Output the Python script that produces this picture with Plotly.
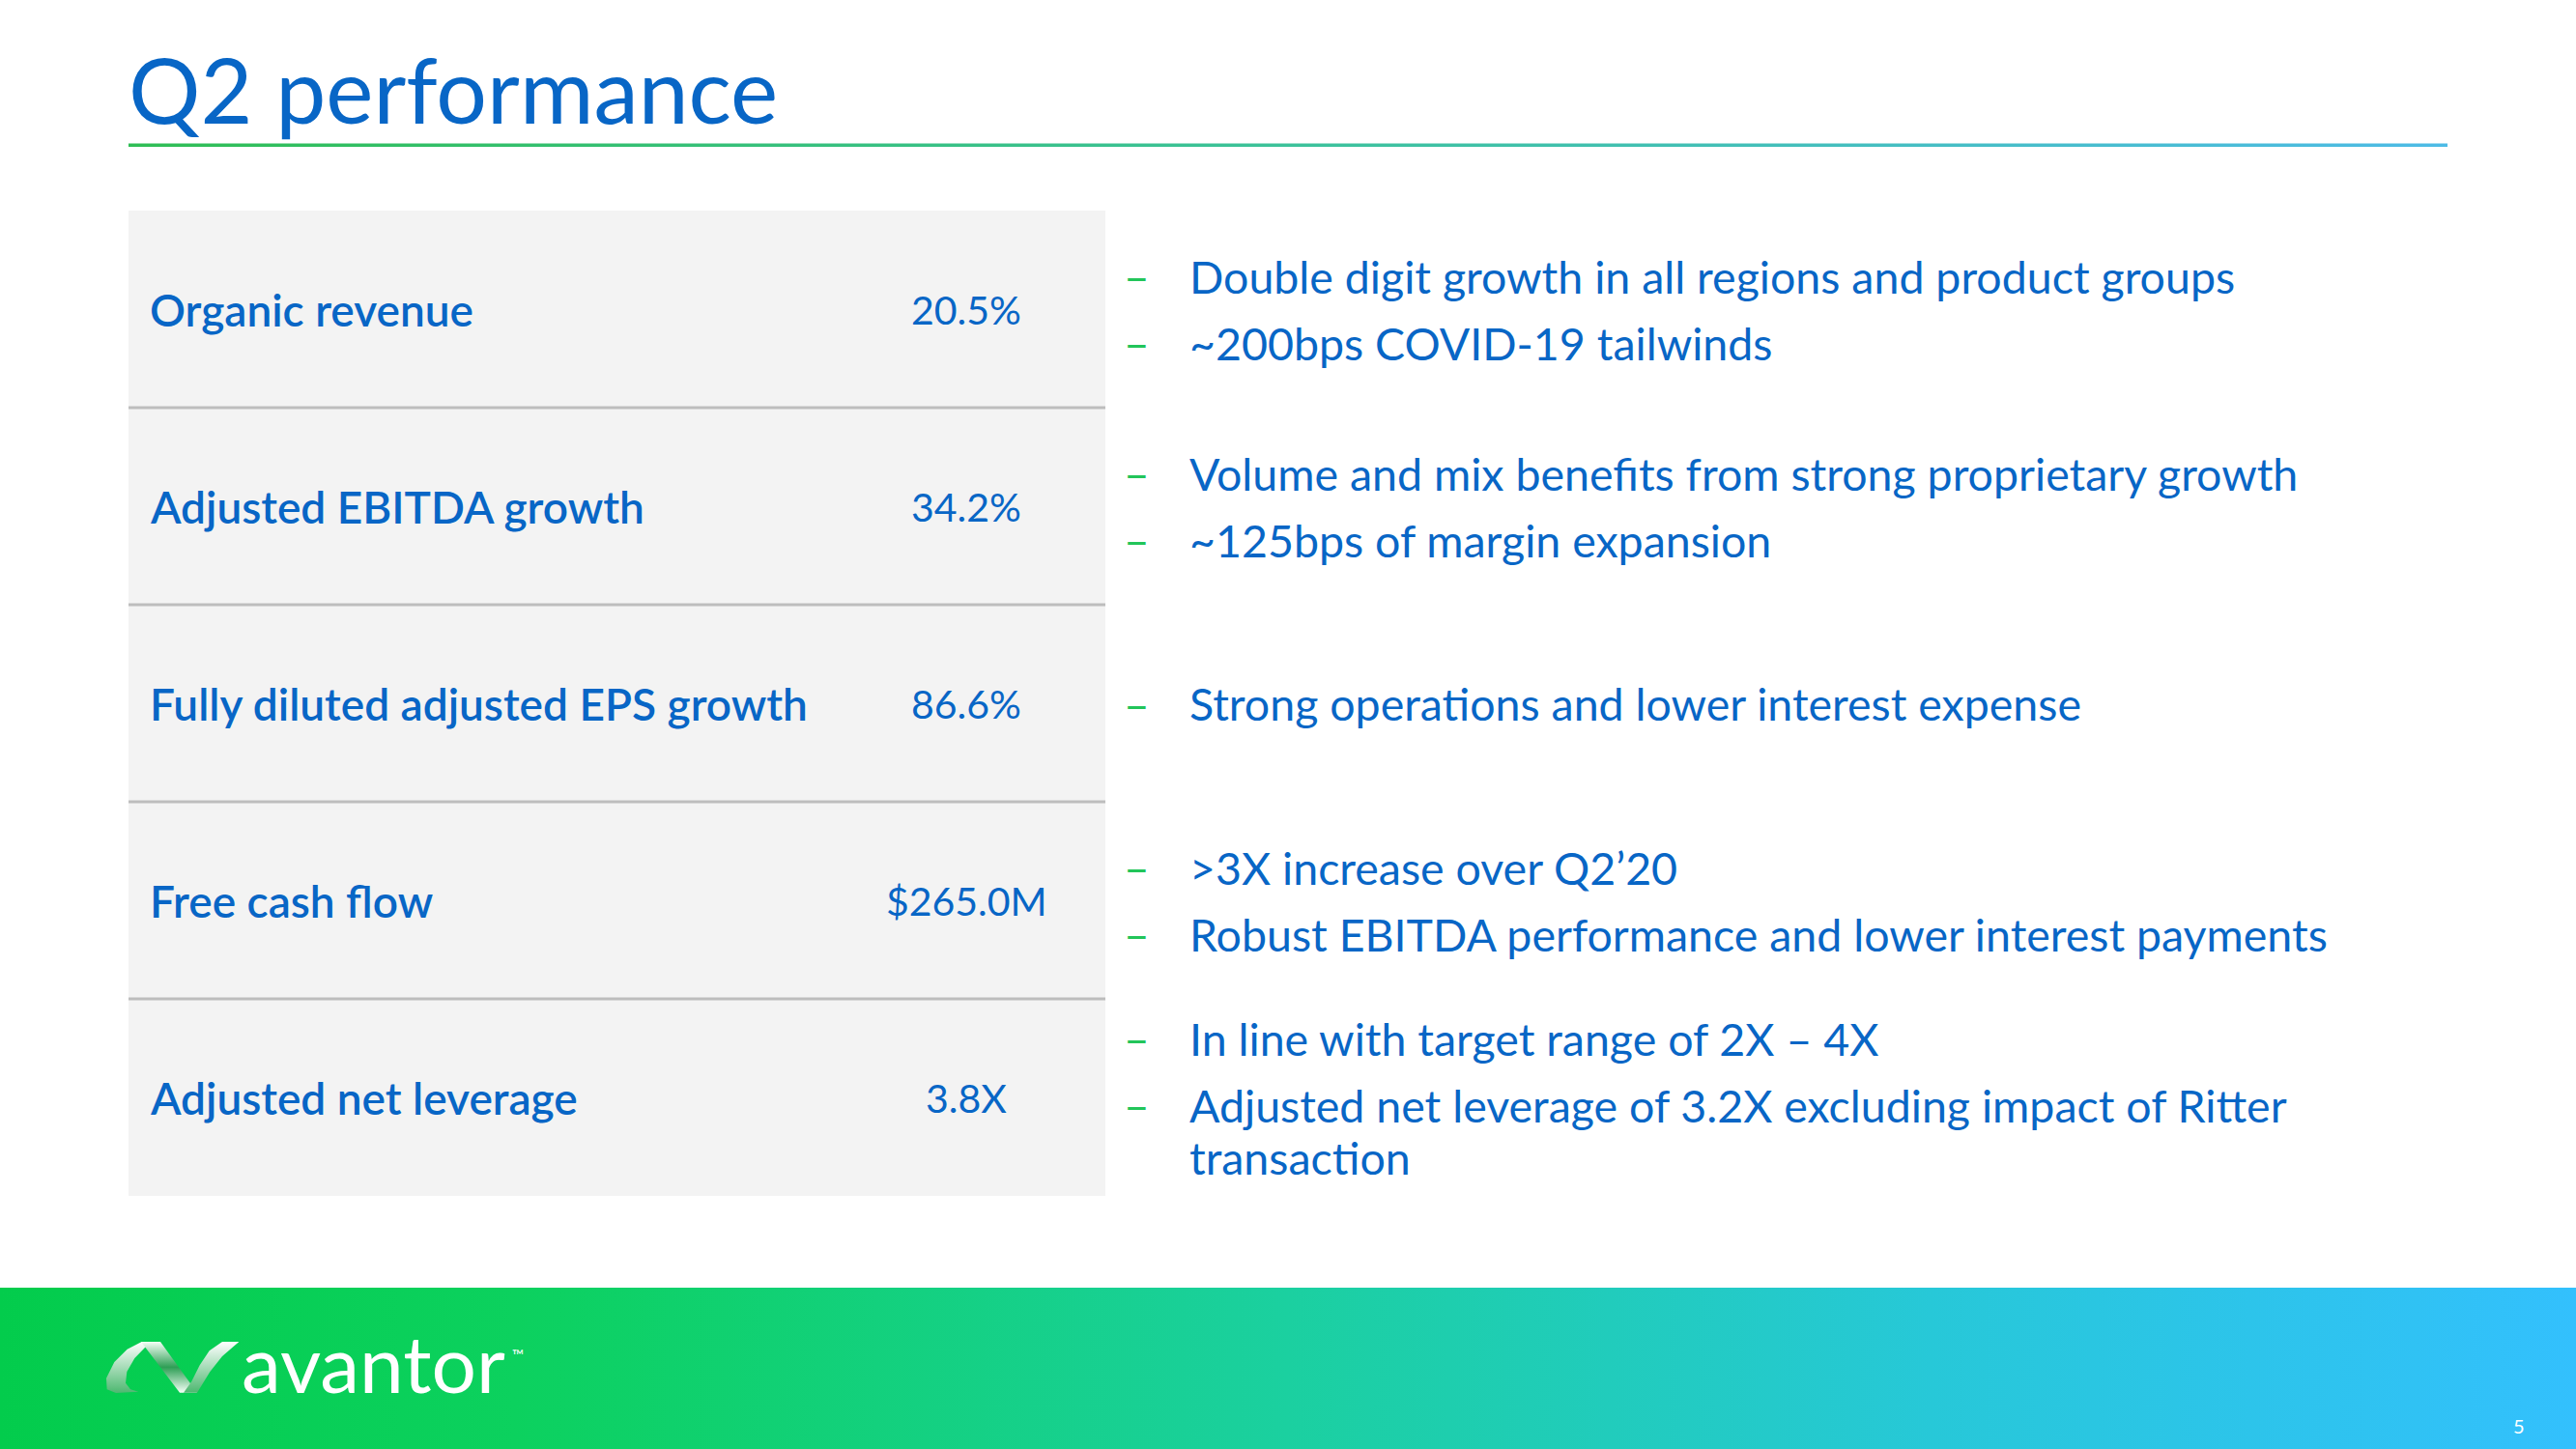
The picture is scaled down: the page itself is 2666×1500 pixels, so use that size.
import plotly.graph_objects as go

# ---------------- data ----------------
title_text = "Q2 performance"
metrics = ["Organic revenue", "Adjusted EBITDA growth", "Fully diluted adjusted EPS growth",
           "Free cash flow", "Adjusted net leverage"]
values = ["20.5%", "34.2%", "86.6%", "$265.0M", "3.8X"]
comments = [
    ["Double digit growth in all regions and product groups", "~200bps COVID-19 tailwinds"],
    ["Volume and mix benefits from strong proprietary growth", "~125bps of margin expansion"],
    ["Strong operations and lower interest expense"],
    [">3X increase over Q2\u201920", "Robust EBITDA performance and lower interest payments"],
    ["In line with target range of 2X \u2013 4X",
     "Adjusted net leverage of 3.2X excluding impact of Ritter<br>transaction"],
]
brand = "avantor"
page_no = "5"

# ---------------- style / layout constants ----------------
W, H = 2666, 1500
BLUE = "#0866C6"
GREEN_DASH = "#22C55A"
FONT = "Lato"
TBL_X0, TBL_X1 = 133, 1144
TBL_Y0, ROW_H = 218, 204
LABEL_X, VALUE_X = 153, 1000
DASH_X, BULLET_X = 1176, 1229
BULLET_GAP, WRAP_GAP = 69, 54

fig = go.Figure()
shapes = []
ann = []

def poly(xs, ys, colorscale, gtype="vertical"):
    fig.add_trace(go.Scatter(
        x=list(xs) + [xs[0]], y=list(ys) + [ys[0]], mode="lines", fill="toself",
        line=dict(width=0, color="rgba(0,0,0,0)"),
        fillgradient=dict(type=gtype, colorscale=colorscale),
        hoverinfo="skip", showlegend=False))

# title
ann.append(dict(x=131, y=92, text=title_text, xanchor="left", yanchor="middle", showarrow=False,
                font=dict(family=FONT, size=93, color=BLUE)))
# title underline (gradient)
poly([133, 2533, 2533, 133], [148.5, 148.5, 152, 152],
     [[0, "#2FBE55"], [0.5, "#3CC29A"], [1, "#4DBBE6"]], "horizontal")

# table background
n = len(metrics)
shapes.append(dict(type="rect", x0=TBL_X0, x1=TBL_X1, y0=TBL_Y0, y1=TBL_Y0 + n * ROW_H,
                   fillcolor="#F3F3F3", line=dict(width=0), layer="below"))
for i, (m, v, cm) in enumerate(zip(metrics, values, comments)):
    yc = TBL_Y0 + ROW_H * (i + 0.5)
    if i > 0:
        ysep = TBL_Y0 + ROW_H * i
        shapes.append(dict(type="line", x0=TBL_X0, x1=TBL_X1, y0=ysep, y1=ysep,
                           line=dict(color="#BDBDBD", width=3)))
    ann.append(dict(x=LABEL_X, y=yc, text=m, xanchor="left", yanchor="middle", showarrow=False,
                    font=dict(family=FONT, size=46, color=BLUE, weight=600)))
    ann.append(dict(x=VALUE_X, y=yc, text=v, xanchor="center", yanchor="middle", showarrow=False,
                    font=dict(family=FONT, size=41, color=BLUE)))
    # bullets block centred on the row
    nl = [c.count("<br>") + 1 for c in cm]
    span = sum((k - 1) * WRAP_GAP for k in nl) + (len(cm) - 1) * BULLET_GAP
    y = yc - span / 2
    for c, k in zip(cm, nl):
        ann.append(dict(x=DASH_X, y=y, text="\u2013", xanchor="center", yanchor="middle",
                        showarrow=False, font=dict(family=FONT, size=46, color=GREEN_DASH)))
        for j, line in enumerate(c.split("<br>")):
            ann.append(dict(x=BULLET_X, y=y + j * WRAP_GAP, text=line, xanchor="left",
                            yanchor="middle", align="left", showarrow=False,
                            font=dict(family=FONT, size=46.5, color=BLUE)))
        y += (k - 1) * WRAP_GAP + BULLET_GAP

# footer gradient band
poly([0, W, W, 0], [1333, 1333, 1500, 1500],
     [[0, "#03CC4C"], [0.2, "#0CD15E"], [0.5, "#1BD0A0"], [0.75, "#27C8D8"], [1, "#33C0FD"]],
     "horizontal")

# logo swooshes (zoom-space helper)
def zp(pts):
    return [90 + p[0] / 3 for p in pts], [1370 + p[1] / 3 for p in pts]

p1 = [(160, 212), (90, 216), (62, 205), (60, 170), (85, 120), (125, 80), (170, 57), (215, 57),
      (180, 75), (148, 108), (124, 150), (120, 185), (135, 205)]
p2 = [(168, 57), (228, 57), (342, 215), (288, 215)]
p3 = [(300, 215), (342, 215), (382, 150), (420, 102), (472, 57), (420, 57), (380, 85),
      (350, 130), (325, 180)]
xs, ys = zp(p1)
poly(xs, ys, [[0, "#4DB870"], [1, "#FFFFFF"]])
xs, ys = zp(p2)
poly(xs, ys, [[0, "#F4FFF6"], [0.5, "#2E9E55"], [1, "#F4FFF6"]])
xs, ys = zp(p3)
poly(xs, ys, [[0, "#4DB870"], [1, "#FFFFFF"]])

ann.append(dict(x=248, y=1410, text=brand, xanchor="left", yanchor="middle", showarrow=False,
                font=dict(family=FONT, size=82, color="white")))
ann.append(dict(x=528, y=1402, text="\u2122", xanchor="left", yanchor="middle", showarrow=False,
                font=dict(family=FONT, size=16, color="white")))
ann.append(dict(x=2607, y=1476, text=page_no, xanchor="center", yanchor="middle", showarrow=False,
                font=dict(family=FONT, size=20, color="white")))

fig.update_layout(
    width=W, height=H, margin=dict(l=0, r=0, t=0, b=0),
    paper_bgcolor="white", plot_bgcolor="white",
    xaxis=dict(range=[0, W], visible=False, fixedrange=True),
    yaxis=dict(range=[H, 0], visible=False, fixedrange=True),
    shapes=shapes, annotations=ann, showlegend=False,
)
fig.write_html("out.html", config={"displayModeBar": False},
               post_script="document.body.style.margin='0';document.body.style.overflow='hidden';")
